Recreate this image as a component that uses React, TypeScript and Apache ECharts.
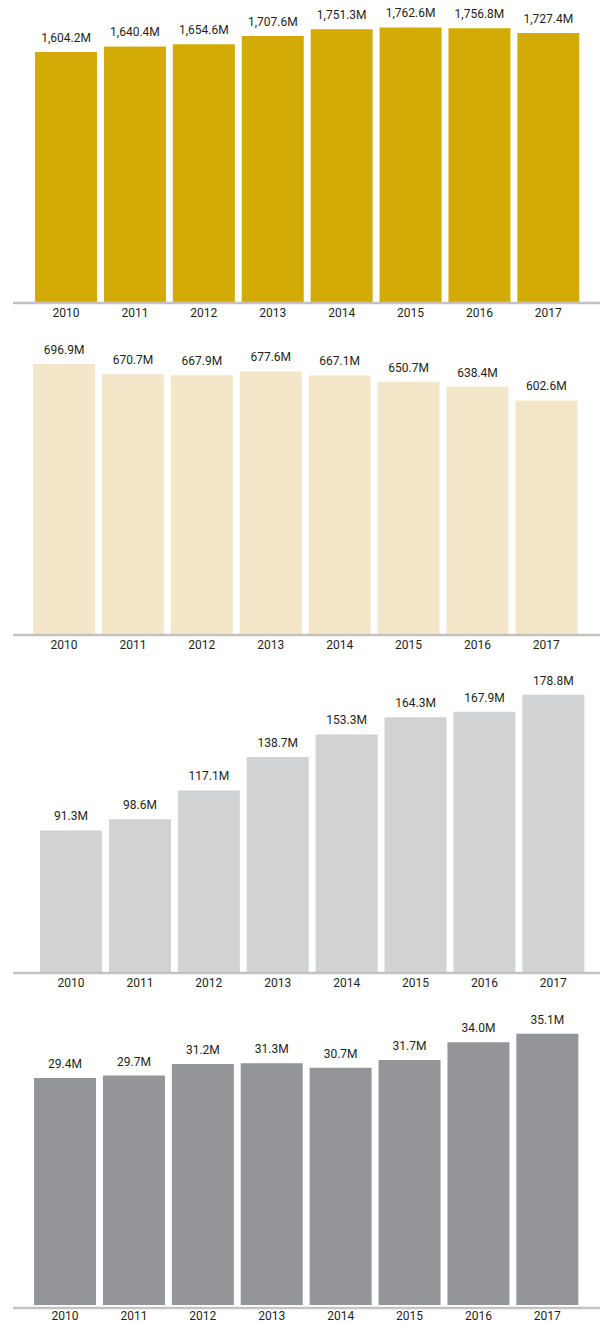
import React, { useEffect, useRef } from "react";
import * as echarts from "echarts";

const years = ["2010", "2011", "2012", "2013", "2014", "2015", "2016", "2017"];
const seriesA = [1604.2, 1640.4, 1654.6, 1707.6, 1751.3, 1762.6, 1756.8, 1727.4];
const seriesB = [696.9, 670.7, 667.9, 677.6, 667.1, 650.7, 638.4, 602.6];
const seriesC = [91.3, 98.6, 117.1, 138.7, 153.3, 164.3, 167.9, 178.8];
const seriesD = [29.4, 29.7, 31.2, 31.3, 30.7, 31.7, 34.0, 35.1];

const panels = [
  { data: seriesA, color: "#D3AB06", max: 1900, top: 6, height: 296, left: 31.6, axisY: 303 },
  { data: seriesB, color: "#F4E7C9", max: 800, top: 324, height: 310, left: 29.6, axisY: 635 },
  { data: seriesC, color: "#D1D2D4", max: 200, top: 662, height: 310, left: 36.6, axisY: 973 },
  { data: seriesD, color: "#939598", max: 40, top: 996, height: 311, left: 30.6, axisY: 1308 },
];

const FONT = "Roboto, 'DejaVu Sans', sans-serif";
const fmt = (v: number) =>
  v.toLocaleString("en-US", { minimumFractionDigits: 1, maximumFractionDigits: 1 }) + "M";

export default function App() {
  const ref = useRef<HTMLDivElement>(null);
  useEffect(() => {
    if (!ref.current) return;
    const chart = echarts.init(ref.current, null, { renderer: "svg" });
    const bandWidth = 68.9;
    const gridWidth = bandWidth * years.length;
    chart.setOption({
      animation: false,
      grid: panels.map((p) => ({ left: p.left, width: gridWidth, top: p.top, height: p.height })),
      xAxis: panels.map((p, i) => ({
        type: "category",
        gridIndex: i,
        data: years,
        axisLine: { show: false },
        axisTick: { show: false },
        axisLabel: { color: "#231F20", fontFamily: FONT, fontSize: 12, margin: 5 },
      })),
      yAxis: panels.map((p, i) => ({
        type: "value",
        gridIndex: i,
        min: 0,
        max: p.max,
        show: false,
        splitLine: { show: false },
      })),
      series: panels.map((p, i) => ({
        type: "bar",
        xAxisIndex: i,
        yAxisIndex: i,
        data: p.data,
        barWidth: 62,
        itemStyle: { color: p.color },
        label: {
          show: true,
          position: "top",
          distance: 8,
          color: "#231F20",
          fontFamily: FONT,
          fontSize: 12,
          formatter: (d: any) => fmt(d.value),
        },
      })),
      graphic: panels.map((p) => ({
        type: "line",
        shape: { x1: 13, y1: p.axisY, x2: 600, y2: p.axisY },
        style: { stroke: "#C2C2C2", lineWidth: 2.5 },
        z: 10,
      })),
    });
    return () => chart.dispose();
  }, []);
  return (
    <div
      ref={ref}
      style={{ position: "absolute", left: 0, top: 0, width: 600, height: 1322, background: "#fff" }}
    />
  );
}
